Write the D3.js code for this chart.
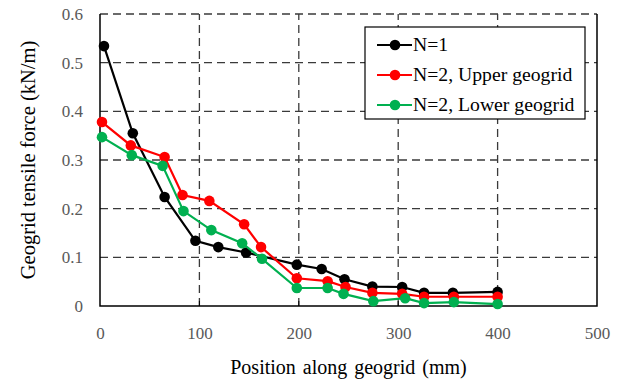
<!DOCTYPE html>
<html>
<head>
<meta charset="utf-8">
<script src="https://cdn.jsdelivr.net/npm/d3@7"></script>
<style>
  body { margin: 0; background: #fff; }
  svg { display: block; }
  svg text { font-family: "Liberation Serif", "Times New Roman", "DejaVu Serif", serif; }
</style>
</head>
<body>
<svg width="624" height="383"></svg>
<script>
// positions along geogrid (mm)
const posN1 = [4, 33, 65, 96, 119, 147, 198, 223, 246, 274, 304, 326, 355, 400];
const valN1 = [0.534, 0.355, 0.224, 0.134, 0.121, 0.110, 0.085, 0.076, 0.055, 0.040, 0.039, 0.027, 0.027, 0.029];

const posUpper = [2, 31, 65, 83, 110, 145, 162, 198, 229, 247, 274, 304, 326, 356, 400];
const valUpper = [0.378, 0.330, 0.306, 0.228, 0.216, 0.168, 0.121, 0.057, 0.051, 0.039, 0.027, 0.025, 0.019, 0.019, 0.019];

const posLower = [2, 32, 63, 84, 112, 143, 163, 198, 229, 245, 275, 307, 326, 356, 400];
const valLower = [0.347, 0.310, 0.288, 0.195, 0.156, 0.129, 0.097, 0.037, 0.037, 0.025, 0.010, 0.016, 0.006, 0.008, 0.004];

const seriesNames = ['N=1', 'N=2, Upper geogrid', 'N=2, Lower geogrid'];
const seriesColors = ['#000000', '#ff0000', '#00b050'];
const xTicks = [0, 100, 200, 300, 400, 500];
const yTicks = [0, 0.1, 0.2, 0.3, 0.4, 0.5, 0.6];

const series = [
    { name: seriesNames[0], color: seriesColors[0], pts: posN1.map((p, i) => [p, valN1[i]]) },
    { name: seriesNames[1], color: seriesColors[1], pts: posUpper.map((p, i) => [p, valUpper[i]]) },
    { name: seriesNames[2], color: seriesColors[2], pts: posLower.map((p, i) => [p, valLower[i]]) }
];

const svg = d3.select('svg');
const margin = { left: 100, top: 14, right: 27, bottom: 77 };
const W = 624, H = 383;

const x = d3.scaleLinear().domain([0, 500]).range([margin.left, W - margin.right]);
const y = d3.scaleLinear().domain([0, 0.6]).range([H - margin.bottom, margin.top]);

// grid lines (dashed)
const grid = svg.append('g');
grid.selectAll('line.gx')
    .data(xTicks.filter(d => d > 0 && d < 500))
    .enter().append('line')
    .attr('x1', d => x(d)).attr('x2', d => x(d))
    .attr('y1', y(0)).attr('y2', y(0.6))
    .attr('stroke', '#3a3a3a').attr('stroke-width', 1.3)
    .attr('stroke-dasharray', '8,5');
grid.selectAll('line.gy')
    .data(yTicks.filter(d => d > 0))
    .enter().append('line')
    .attr('x1', x(0)).attr('x2', x(500))
    .attr('y1', d => y(d)).attr('y2', d => y(d))
    .attr('stroke', '#3a3a3a').attr('stroke-width', 1.3)
    .attr('stroke-dasharray', '8,5');

// axes
const xAxis = d3.axisBottom(x).tickValues(xTicks).tickSize(0).tickPadding(21);
const yAxis = d3.axisLeft(y).tickValues(yTicks).tickSize(0).tickPadding(17)
    .tickFormat(d => d === 0 ? '0' : d3.format('.1f')(d));

const gx = svg.append('g').attr('transform', `translate(0,${y(0)})`).call(xAxis);
const gy = svg.append('g').attr('transform', `translate(${x(0)},0)`).call(yAxis);
[gx, gy].forEach(g => {
    g.attr('font-family', null);
    g.select('.domain').remove();
    g.selectAll('text')
        .attr('font-size', 17)
        .attr('fill', '#595959');
});

// plot frame: left, bottom, right solid
svg.append('path')
    .attr('d', `M${x(0)},${y(0.6)}V${y(0)}H${x(500)}V${y(0.6)}`)
    .attr('fill', 'none').attr('stroke', '#000').attr('stroke-width', 1.5);

// small tick marks on x axis
svg.append('g').selectAll('line')
    .data(xTicks.filter(d => d > 0 && d < 500))
    .enter().append('line')
    .attr('x1', d => x(d)).attr('x2', d => x(d))
    .attr('y1', y(0)).attr('y2', y(0) - 5)
    .attr('stroke', '#000').attr('stroke-width', 1);

// series
const line = d3.line().x(d => x(d[0])).y(d => y(d[1]));
series.forEach(s => {
    const g = svg.append('g');
    g.append('path')
        .datum(s.pts)
        .attr('d', line)
        .attr('fill', 'none')
        .attr('stroke', s.color)
        .attr('stroke-width', 2.2);
    g.selectAll('circle')
        .data(s.pts)
        .enter().append('circle')
        .attr('cx', d => x(d[0]))
        .attr('cy', d => y(d[1]))
        .attr('r', 5.3)
        .attr('fill', s.color);
});

// axis titles
svg.append('text')
    .attr('x', (x(0) + x(500)) / 2)
    .attr('y', 374)
    .attr('text-anchor', 'middle')
    .attr('font-size', 20)
    .attr('word-spacing', 2)
    .attr('fill', '#000')
    .text('Position along geogrid (mm)');

svg.append('text')
    .attr('transform', `translate(35,${(y(0) + y(0.6)) / 2}) rotate(-90)`)
    .attr('text-anchor', 'middle')
    .attr('font-size', 20.5)
    .attr('fill', '#000')
    .text('Geogrid tensile force (kN/m)');

// legend
const lg = svg.append('g').attr('transform', 'translate(365,27)');
lg.append('rect')
    .attr('width', 220).attr('height', 92)
    .attr('fill', '#fff').attr('stroke', '#000').attr('stroke-width', 1.2);
series.forEach((s, i) => {
    const row = lg.append('g').attr('transform', `translate(0,${18 + i * 30})`);
    row.append('line')
        .attr('x1', 12).attr('x2', 47)
        .attr('stroke', s.color).attr('stroke-width', 2.2);
    row.append('circle')
        .attr('cx', 30).attr('r', 5.3).attr('fill', s.color);
    row.append('text')
        .attr('x', 48).attr('y', 6)
        .attr('font-size', 19.7)
        .attr('fill', '#000')
        .text(s.name);
});
</script>
</body>
</html>
